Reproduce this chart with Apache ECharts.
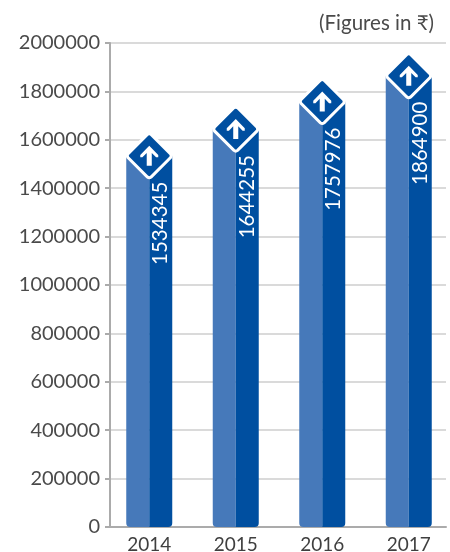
<!DOCTYPE html>
<html>
<head>
<meta charset="utf-8">
<style>
  html, body { margin: 0; padding: 0; background: #fff; }
  #chart { width: 450px; height: 552px; }
</style>
<script src="https://cdn.jsdelivr.net/npm/echarts@6/dist/echarts.min.js"></script>
</head>
<body>
<div id="chart"></div>
<script>
const years = ['2014', '2015', '2016', '2017'];
const values = [1534345, 1644255, 1757976, 1864900];
const yTicks = [0, 200000, 400000, 600000, 800000, 1000000, 1200000, 1400000, 1600000, 1800000, 2000000];

const lightBlue = '#4679BA';
const darkBlue = '#004FA0';
const textColor = '#4A4A4A';
const fontFamily = 'Lato, "Noto Sans", sans-serif';

// rounded diamond and up arrow
const diamond = 'path://M46 3 Q50 0 54 3 L97 46 Q100 50 97 54 L54 97 Q50 100 46 97 L3 54 Q0 50 3 46 Z';
const arrow = 'path://M50 0 L100 46 L100 58 L88 58 L64 36 L64 100 L36 100 L36 36 L12 58 L0 58 L0 46 Z';

const chart = echarts.init(document.getElementById('chart'));
chart.setOption({
  animation: false,
  title: {
    text: '(Figures in ₹)',
    right: 11,
    top: 8,
    textStyle: { color: textColor, fontSize: 20.5, fontWeight: 'normal', fontFamily }
  },
  grid: [
    { left: 110, width: 336, top: 43, bottom: 25 },
    // bars sit on a slightly wider band than the gridlines, it runs past the canvas edge
    { left: 106, width: 346, top: 43, bottom: 25, outerBoundsMode: 'none' }
  ],
  xAxis: [
    {
      type: 'category', gridIndex: 0, data: years,
      axisLine: { lineStyle: { color: '#ABABAB', width: 2 } },
      axisTick: { show: false },
      axisLabel: { show: false }
    },
    {
      type: 'category', gridIndex: 1, data: years,
      axisLine: { show: false },
      axisTick: { show: false },
      axisLabel: { color: '#3F3F3F', fontSize: 19, fontFamily, margin: 8 }
    }
  ],
  yAxis: [
    {
      type: 'value', gridIndex: 0, min: 0, max: 2000000, interval: 200000,
      axisLine: { show: true, lineStyle: { color: '#ABABAB', width: 2 } },
      axisTick: { show: true, length: 5, lineStyle: { color: '#ABABAB', width: 2 } },
      axisLabel: {
        color: textColor, fontSize: 20, fontFamily, margin: 10,
        formatter: (v) => (yTicks.includes(v) ? String(v) : '')
      },
      splitLine: { lineStyle: { color: '#DADADA', width: 2 } }
    },
    {
      type: 'value', gridIndex: 1, min: 0, max: 2000000, interval: 200000,
      axisLine: { show: false }, axisTick: { show: false },
      axisLabel: { show: false }, splitLine: { show: false }
    }
  ],
  series: [
    {
      type: 'bar', xAxisIndex: 1, yAxisIndex: 1, data: values,
      barWidth: 23, barGap: 0,
      itemStyle: { color: lightBlue, borderRadius: [0, 0, 0, 4] }
    },
    {
      type: 'bar', xAxisIndex: 1, yAxisIndex: 1, data: values,
      barWidth: 23, barGap: 0,
      itemStyle: { color: darkBlue, borderRadius: [0, 0, 4, 0] },
      label: {
        show: true, position: 'insideTop', rotate: 90, distance: 26,
        align: 'right', verticalAlign: 'middle',
        color: '#fff', fontSize: 20.5, fontFamily,
        formatter: (p) => String(p.value)
      }
    },
    {
      type: 'scatter', xAxisIndex: 1, yAxisIndex: 1, data: values,
      symbol: diamond, symbolSize: 44, z: 5,
      itemStyle: { color: darkBlue, opacity: 1, borderColor: '#fff', borderWidth: 3 }
    },
    {
      type: 'scatter', xAxisIndex: 1, yAxisIndex: 1, data: values,
      symbol: arrow, symbolSize: [18, 20], z: 6,
      itemStyle: { color: '#fff', opacity: 1 }
    }
  ]
});
</script>
</body>
</html>
